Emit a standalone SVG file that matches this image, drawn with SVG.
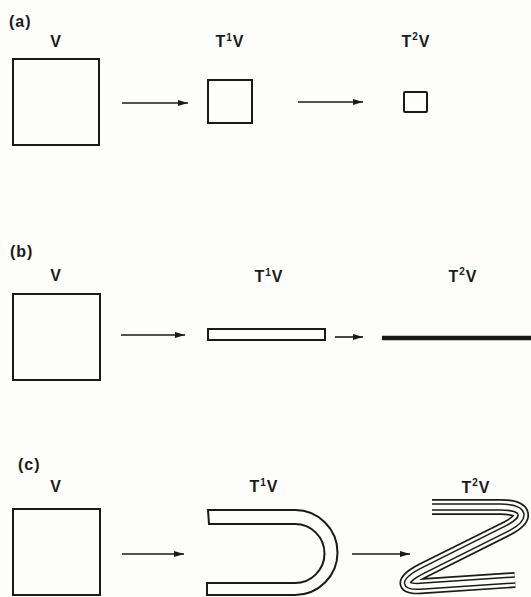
<svg xmlns="http://www.w3.org/2000/svg" width="531" height="597" viewBox="0 0 531 597">
<defs>
<style>
.bg{fill:#fdfdfb}
.lbl{font-family:"Liberation Sans",Arial,sans-serif;font-size:16px;font-weight:bold;fill:#1a1a1a;letter-spacing:1px}
.sup{font-size:10px}
.box{fill:none;stroke:#1a1a1a;stroke-width:2}
.arr{fill:none;stroke:#1a1a1a;stroke-width:1.6;marker-end:url(#ah)}
</style>
<marker id="ah" markerUnits="userSpaceOnUse" markerWidth="12" markerHeight="8" refX="10" refY="4" orient="auto">
<path d="M0,1 L10,4 L0,7 z" fill="#1a1a1a"/>
</marker>
<path id="zc" d="M432,507 L500,507 C526,507 527,518 508,528 L424,570 C400,582 404,588 424,586 L515,580"/>
</defs>
<rect class="bg" x="0" y="0" width="531" height="597"/>

<g id="panel-a-label"><text class="lbl" x="9" y="27">(a)</text></g>
<g id="a-V">
<text class="lbl" x="56" y="47" text-anchor="middle">V</text>
<rect class="box" x="13" y="59" width="86" height="86"/>
</g>
<g id="a-T1V">
<text class="lbl" x="230" y="47" text-anchor="middle">T<tspan class="sup" dy="-6">1</tspan><tspan dy="6">V</tspan></text>
<rect class="box" x="208" y="80" width="44" height="43"/>
</g>
<g id="a-T2V">
<text class="lbl" x="416" y="47" text-anchor="middle">T<tspan class="sup" dy="-7">2</tspan><tspan dy="7">V</tspan></text>
<rect class="box" x="404" y="92" width="23" height="20" rx="1"/>
</g>

<g id="panel-b-label"><text class="lbl" x="10" y="257">(b)</text></g>
<g id="b-V">
<text class="lbl" x="56" y="281" text-anchor="middle">V</text>
<rect class="box" x="13" y="294" width="87" height="86"/>
</g>
<g id="b-T1V">
<text class="lbl" x="269" y="282" text-anchor="middle">T<tspan class="sup" dy="-6">1</tspan><tspan dy="6">V</tspan></text>
<rect class="box" x="208" y="329" width="117" height="11"/>
</g>
<g id="b-T2V">
<text class="lbl" x="463" y="282" text-anchor="middle">T<tspan class="sup" dy="-7">2</tspan><tspan dy="7">V</tspan></text>
<line x1="382" y1="338" x2="531" y2="338" stroke="#1a1a1a" stroke-width="4.5"/>
</g>

<g id="panel-c-label"><text class="lbl" x="18" y="470">(c)</text></g>
<g id="c-V">
<text class="lbl" x="56" y="492" text-anchor="middle">V</text>
<rect class="box" x="13" y="509" width="87" height="86"/>
</g>
<g id="c-T1V">
<text class="lbl" x="264" y="492" text-anchor="middle">T<tspan class="sup" dy="-6">1</tspan><tspan dy="6">V</tspan></text>
<path class="box" d="M208,510 L295,510 A42.5,42.5 0 0 1 295,595 L207,595 L207,583 L295,583 A29.5,29.5 0 0 0 295,524 L209,524 Z"/>
</g>
<g id="c-T2V">
<text class="lbl" x="476" y="493" text-anchor="middle">T<tspan class="sup" dy="-7">2</tspan><tspan dy="7">V</tspan></text>
<g fill="none" stroke-linejoin="round">
<use href="#zc" stroke="#1a1a1a" stroke-width="16"/>
<use href="#zc" stroke="#fdfdfb" stroke-width="12.6"/>
<use href="#zc" stroke="#1a1a1a" stroke-width="7.4"/>
<use href="#zc" stroke="#fdfdfb" stroke-width="4.4"/>
</g>
</g>

<g id="connectors">
<line class="arr" x1="122" y1="103" x2="188" y2="103"/>
<line class="arr" x1="298" y1="102" x2="363" y2="102"/>
<line class="arr" x1="121" y1="335" x2="185" y2="335"/>
<line class="arr" x1="335" y1="337" x2="363" y2="337"/>
<line class="arr" x1="122" y1="554" x2="184" y2="554"/>
<line class="arr" x1="352" y1="554" x2="410" y2="554"/>
</g>
</svg>
